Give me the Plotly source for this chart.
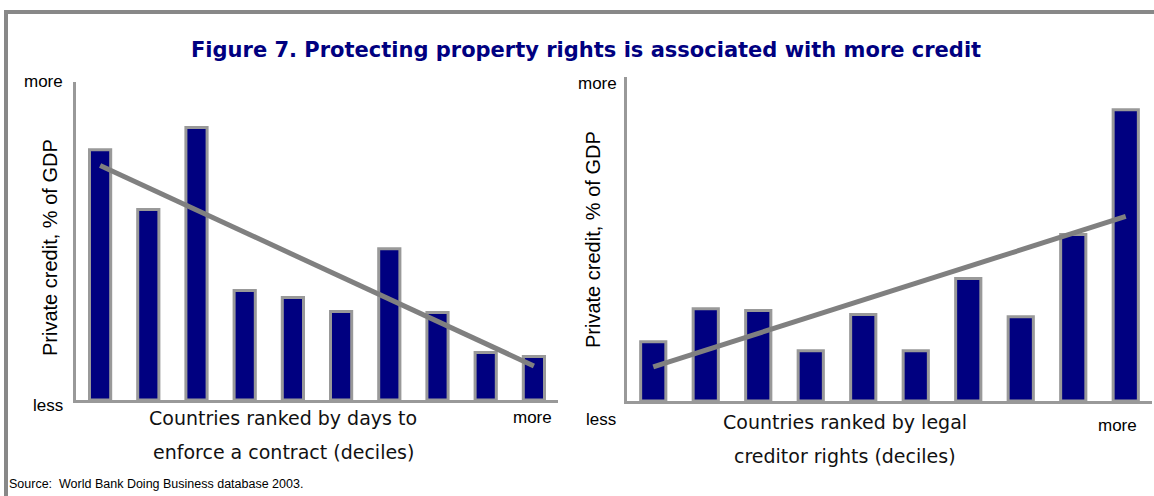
import numpy as np
import plotly.graph_objects as go

W, H = 1154, 496

deciles = list(range(1, 11))
# Left panel: private credit (% of GDP, relative scale) by days-to-enforce decile
enforce_values = [78.7, 59.9, 85.7, 34.4, 32.2, 27.8, 47.6, 27.5, 14.9, 13.7]
# Right panel: private credit by legal creditor rights decile
creditor_values = [18.3, 28.5, 27.9, 15.5, 26.7, 15.5, 37.8, 26.0, 51.4, 89.9]

title_text = "Figure 7. Protecting property rights is associated with more credit"
left_xtitle = ["Countries ranked by days to", "enforce a contract (deciles)"]
right_xtitle = ["Countries ranked by legal", "creditor rights (deciles)"]
ytitle = "Private credit, % of GDP"
source_text = "Source:  World Bank Doing Business database 2003."

NAVY = "#000080"
BORDER = "#999999"
AXIS = "#999999"
TREND = "#808080"


def px(x):
    return x / W


def py(y):
    return 1 - y / H


def trend(vals):
    slope, icpt = np.polyfit(deciles, vals, 1)
    xs = [deciles[0], deciles[-1]]
    return xs, [icpt + slope * x for x in xs]


fig = go.Figure()

fig.add_trace(go.Bar(x=deciles, y=enforce_values, width=0.44,
                     marker=dict(color=NAVY, line=dict(color=BORDER, width=3)),
                     xaxis="x", yaxis="y", showlegend=False))
tx, ty = trend(enforce_values)
fig.add_trace(go.Scatter(x=tx, y=ty, mode="lines", line=dict(color=TREND, width=5),
                         xaxis="x", yaxis="y", showlegend=False))

fig.add_trace(go.Bar(x=deciles, y=creditor_values, width=0.48,
                     marker=dict(color=NAVY, line=dict(color=BORDER, width=3)),
                     xaxis="x2", yaxis="y2", showlegend=False))
tx2, ty2 = trend(creditor_values)
fig.add_trace(go.Scatter(x=tx2, y=ty2, mode="lines", line=dict(color=TREND, width=5),
                         xaxis="x2", yaxis="y2", showlegend=False))

axis_common = dict(showgrid=False, zeroline=False, showticklabels=False, ticks="",
                   showline=True, linecolor=AXIS, linewidth=3, fixedrange=True)

fig.update_layout(
    width=W, height=H,
    margin=dict(l=0, r=0, t=0, b=0),
    paper_bgcolor="white", plot_bgcolor="white",
    xaxis=dict(domain=[px(76), px(558)], range=[0.5, 10.5], anchor="y", **axis_common),
    yaxis=dict(domain=[py(400), py(82)], range=[0, 100], anchor="x", **axis_common),
    xaxis2=dict(domain=[px(627), px(1152)], range=[0.5, 10.5], anchor="y2", **axis_common),
    yaxis2=dict(domain=[py(401), py(77)], range=[0, 100], anchor="x2", **axis_common),
    bargap=0.5,
)

# outer frame (top and left edges visible)
fig.add_shape(type="rect", xref="paper", yref="paper",
              x0=px(6), x1=px(1170), y0=py(520), y1=py(12),
              line=dict(color="#888888", width=4), fillcolor="rgba(0,0,0,0)", layer="below")

annots = []
annots.append(dict(text=title_text, x=px(586), y=py(50), xref="paper", yref="paper",
                   showarrow=False, xanchor="center", yanchor="middle",
                   font=dict(family="DejaVu Sans", size=21, color=NAVY, weight="bold")))

lab_font = dict(family="Liberation Sans", size=17, color="black")
for txt, x, y in [("more", 65, 82), ("less", 65, 405), ("more", 554, 417),
                  ("more", 619, 84), ("less", 618, 419), ("more", 1139, 425)]:
    annots.append(dict(text=txt, x=px(x), y=py(y), xref="paper", yref="paper",
                       showarrow=False, xanchor="right", yanchor="middle", font=lab_font))

xt_font = dict(family="DejaVu Sans", size=19, color="#111111")
for lines, cx, y0 in [(left_xtitle, 283, 418), (right_xtitle, 845, 422)]:
    for i, ln in enumerate(lines):
        annots.append(dict(text=ln, x=px(cx), y=py(y0 + 34 * i), xref="paper", yref="paper",
                           showarrow=False, xanchor="center", yanchor="middle", font=xt_font))

yt_font = dict(family="Liberation Sans", size=20, color="black")
annots.append(dict(text=ytitle, x=px(50), y=py(248), xref="paper", yref="paper",
                   showarrow=False, textangle=-90, xanchor="center", yanchor="middle", font=yt_font))
annots.append(dict(text=ytitle, x=px(593), y=py(240), xref="paper", yref="paper",
                   showarrow=False, textangle=-90, xanchor="center", yanchor="middle", font=yt_font))

annots.append(dict(text=source_text, x=px(7), y=py(484), xref="paper", yref="paper",
                   showarrow=False, xanchor="left", yanchor="middle",
                   font=dict(family="Liberation Sans", size=12.5, color="black")))

fig.update_layout(annotations=annots)

fig.write_html("out.html", config={"displayModeBar": False},
               post_script="document.body.style.margin='0';document.body.style.overflow='hidden';")
